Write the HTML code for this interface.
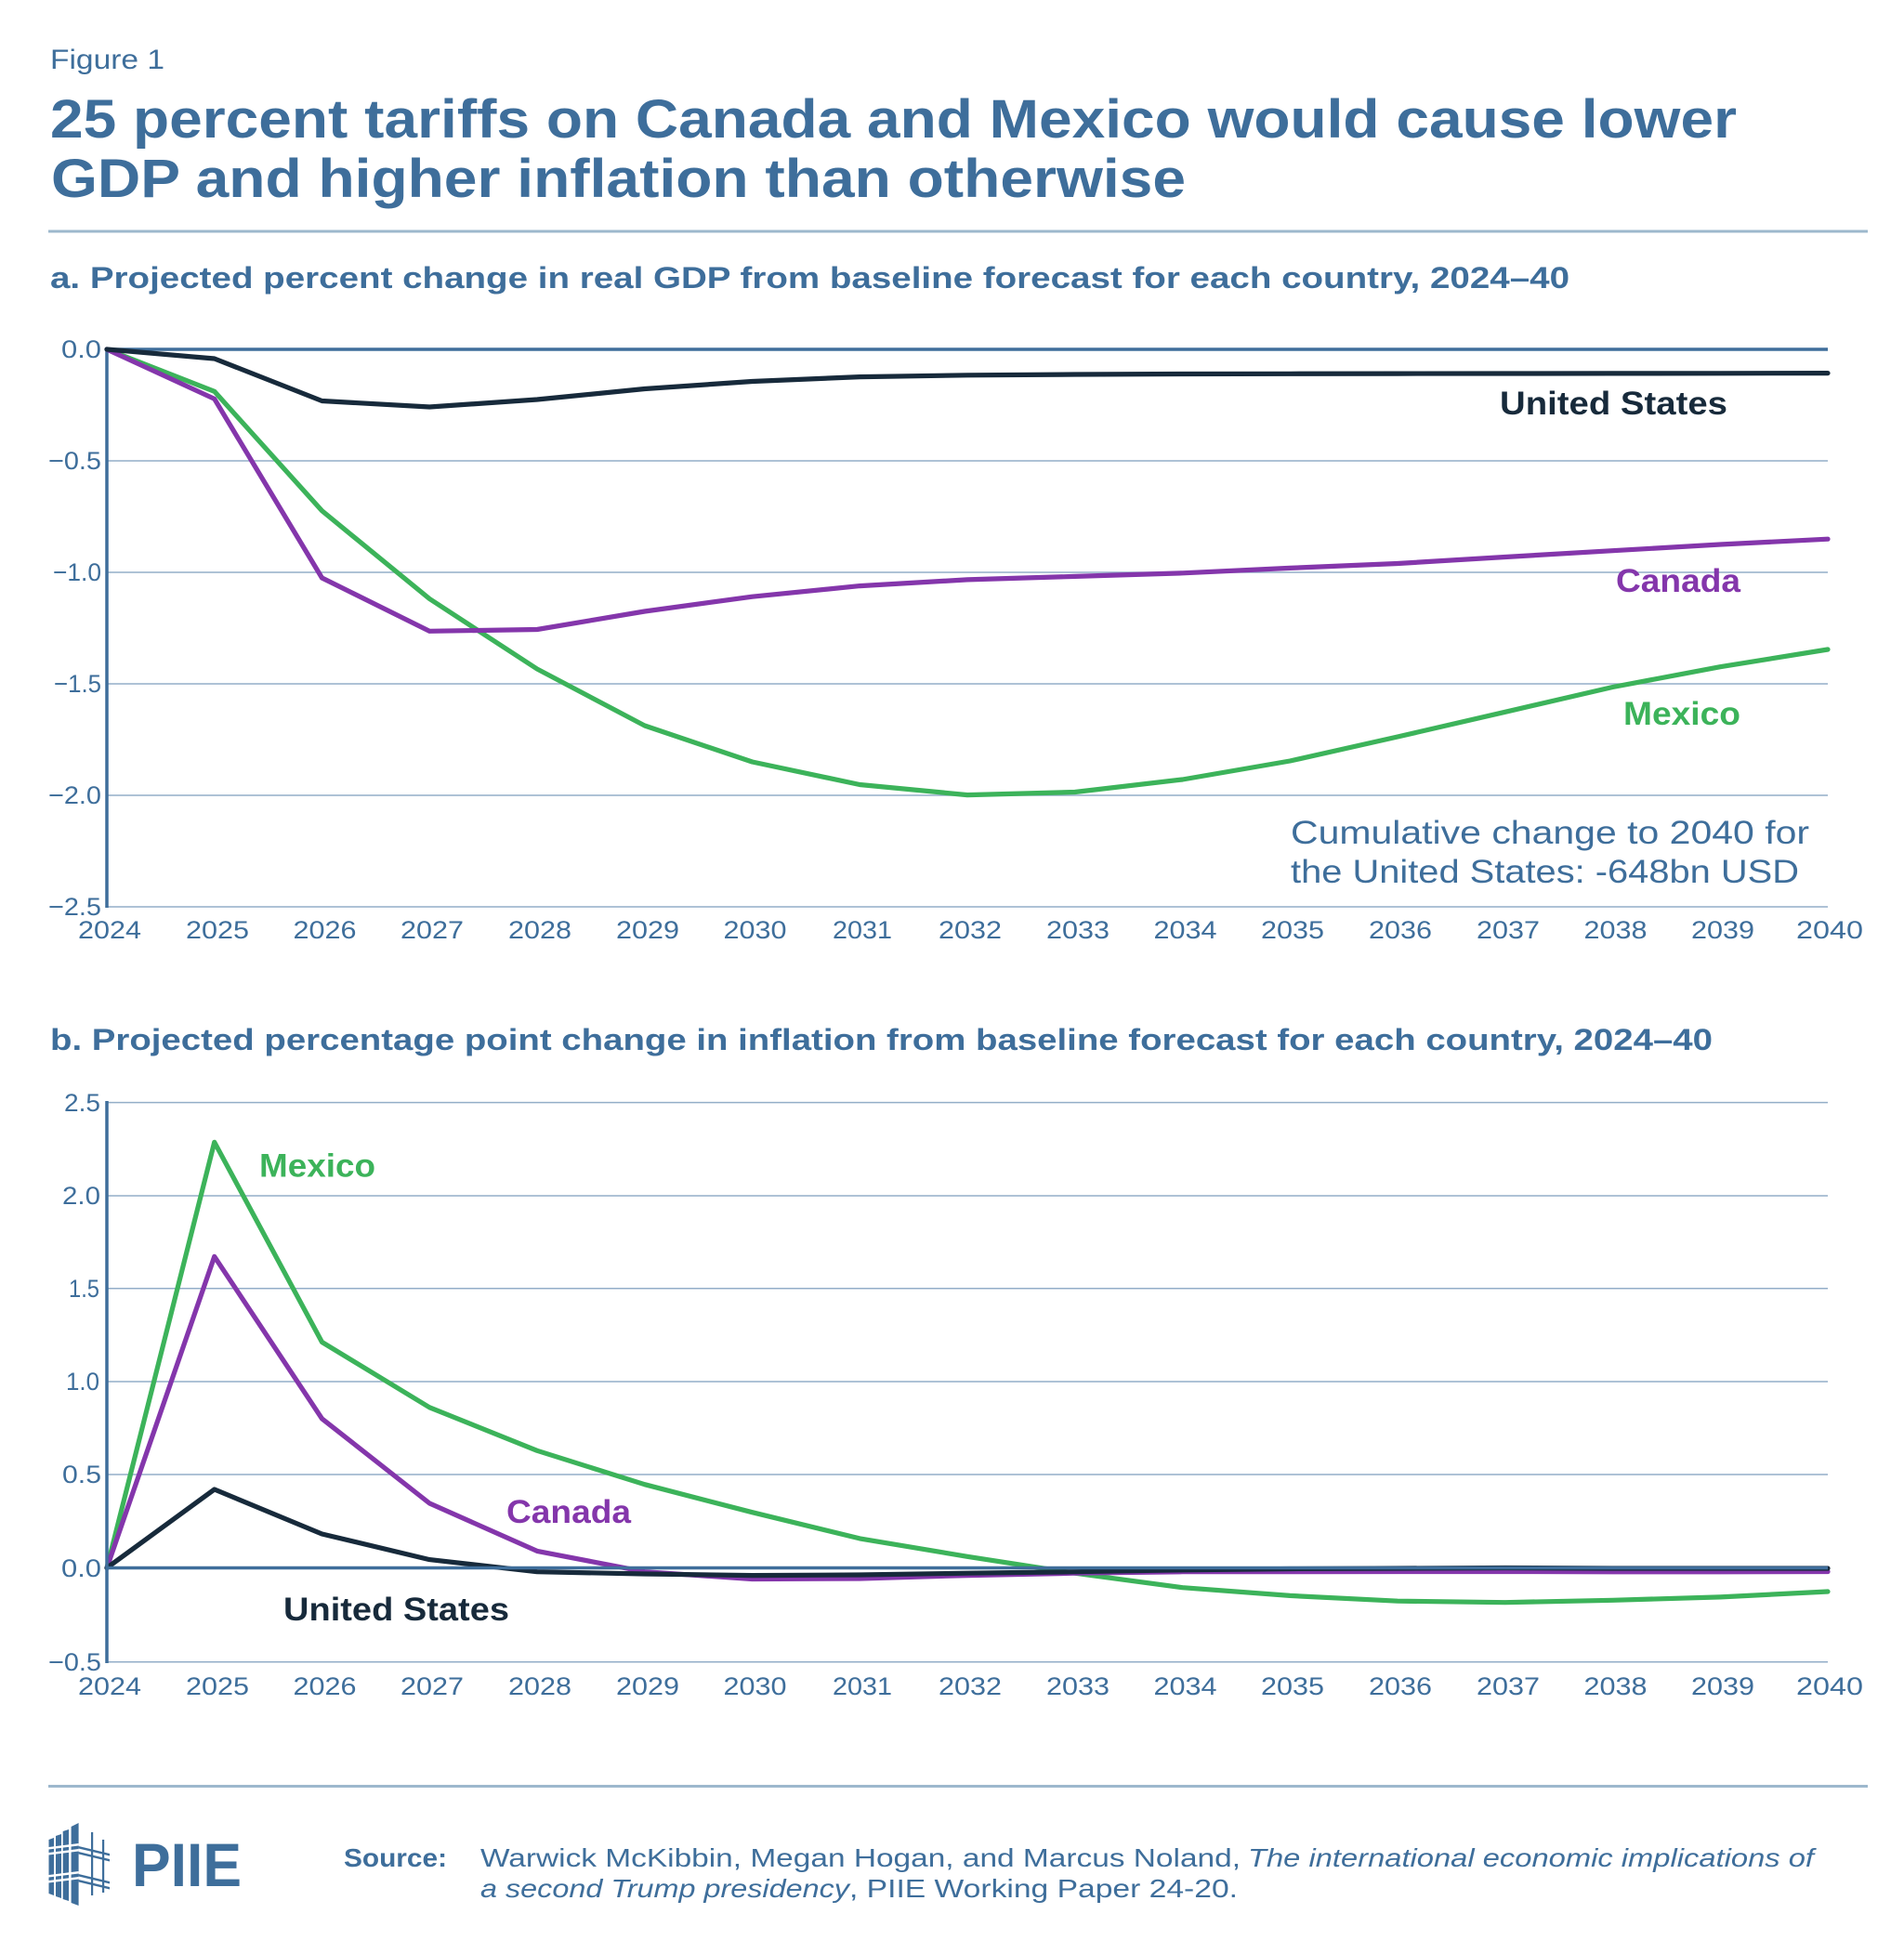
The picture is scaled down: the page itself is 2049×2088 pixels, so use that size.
<!DOCTYPE html>
<html>
<head>
<meta charset="utf-8">
<style>
  html, body { margin: 0; padding: 0; background: #ffffff; }
  svg { display: block; }
  text { font-family: "Liberation Sans", Arial, sans-serif; }
</style>
</head>
<body>
<svg xmlns="http://www.w3.org/2000/svg" width="2049" height="2088" viewBox="0 0 2049 2088">
  <rect x="0" y="0" width="2049" height="2088" fill="#ffffff"/>

  <!-- Header -->
  <text x="54" y="74" font-size="30" fill="#3e6e9b" textLength="123" lengthAdjust="spacingAndGlyphs">Figure 1</text>
  <text x="54" y="148" font-size="58" font-weight="700" fill="#3e6e9b" textLength="1815" lengthAdjust="spacingAndGlyphs">25 percent tariffs on Canada and Mexico would cause lower</text>
  <text x="55" y="212" font-size="58" font-weight="700" fill="#3e6e9b" textLength="1221" lengthAdjust="spacingAndGlyphs">GDP and higher inflation than otherwise</text>
  <rect x="52" y="247.5" width="1958" height="3" fill="#9db8cd"/>

  <!-- Subtitle a -->
  <text x="54" y="310" font-size="32" font-weight="700" fill="#3e6e9b" textLength="1635" lengthAdjust="spacingAndGlyphs">a. Projected percent change in real GDP from baseline forecast for each country, 2024–40</text>

  <!-- Chart a gridlines -->
  <g stroke="#93aec8" stroke-width="1.5">
    <line x1="115" y1="496" x2="1967" y2="496"/>
    <line x1="115" y1="616" x2="1967" y2="616"/>
    <line x1="115" y1="736" x2="1967" y2="736"/>
    <line x1="115" y1="856" x2="1967" y2="856"/>
    <line x1="115" y1="976" x2="1967" y2="976"/>
  </g>
  <!-- Chart a y labels -->
  <g font-size="27" fill="#3e6e9b" text-anchor="end">
    <text x="109" y="385" textLength="43" lengthAdjust="spacingAndGlyphs">0.0</text>
    <text x="109" y="505" textLength="57" lengthAdjust="spacingAndGlyphs">−0.5</text>
    <text x="109" y="625" textLength="52" lengthAdjust="spacingAndGlyphs">−1.0</text>
    <text x="109" y="745" textLength="51" lengthAdjust="spacingAndGlyphs">−1.5</text>
    <text x="109" y="865" textLength="57" lengthAdjust="spacingAndGlyphs">−2.0</text>
    <text x="109" y="985" textLength="57" lengthAdjust="spacingAndGlyphs">−2.5</text>
  </g>
  <!-- Chart a x labels -->
  <g font-size="27" fill="#3e6e9b" text-anchor="middle">
    <text x="118" y="1010" textLength="68" lengthAdjust="spacingAndGlyphs">2024</text>
    <text x="234" y="1010" textLength="68" lengthAdjust="spacingAndGlyphs">2025</text>
    <text x="349.5" y="1010" textLength="68" lengthAdjust="spacingAndGlyphs">2026</text>
    <text x="465" y="1010" textLength="68" lengthAdjust="spacingAndGlyphs">2027</text>
    <text x="581" y="1010" textLength="68" lengthAdjust="spacingAndGlyphs">2028</text>
    <text x="697" y="1010" textLength="68" lengthAdjust="spacingAndGlyphs">2029</text>
    <text x="812.5" y="1010" textLength="68" lengthAdjust="spacingAndGlyphs">2030</text>
    <text x="928" y="1010" textLength="64" lengthAdjust="spacingAndGlyphs">2031</text>
    <text x="1044" y="1010" textLength="68" lengthAdjust="spacingAndGlyphs">2032</text>
    <text x="1160" y="1010" textLength="68" lengthAdjust="spacingAndGlyphs">2033</text>
    <text x="1275.5" y="1010" textLength="68" lengthAdjust="spacingAndGlyphs">2034</text>
    <text x="1391" y="1010" textLength="68" lengthAdjust="spacingAndGlyphs">2035</text>
    <text x="1507" y="1010" textLength="68" lengthAdjust="spacingAndGlyphs">2036</text>
    <text x="1623" y="1010" textLength="68" lengthAdjust="spacingAndGlyphs">2037</text>
    <text x="1738.5" y="1010" textLength="68" lengthAdjust="spacingAndGlyphs">2038</text>
    <text x="1854" y="1010" textLength="68" lengthAdjust="spacingAndGlyphs">2039</text>
    <text x="1969" y="1010" textLength="72" lengthAdjust="spacingAndGlyphs">2040</text>
  </g>

  <!-- Chart a axes -->
  <line x1="115" y1="376" x2="1967" y2="376" stroke="#3f6e9b" stroke-width="3.5"/>
  <line x1="115" y1="374.5" x2="115" y2="977" stroke="#3f6e9b" stroke-width="3.5"/>

  <!-- Chart a series -->
  <g fill="none" stroke-width="5.2" stroke-linejoin="round" stroke-linecap="round">
    <polyline stroke="#3cb35a" points="115,376 230.75,421.3 346.5,549.8 462.25,644.5 578,720 693.75,781 809.5,820 925.25,844.5 1041,855.6 1156.75,852.5 1272.5,839 1388.25,819 1504,793 1619.75,766.3 1735.5,739.5 1851.25,717.7 1967,699"/>
    <polyline stroke="#8436ab" points="115,376 230.75,429.3 346.5,622 462.25,679.3 578,677.5 693.75,658 809.5,642.2 925.25,630.6 1041,623.9 1156.75,620.4 1272.5,616.8 1388.25,611.4 1504,606.5 1619.75,599.5 1735.5,592.7 1851.25,586 1967,580.2"/>
    <polyline stroke="#172a3b" points="115,376 230.75,386 346.5,431.5 462.25,438 578,430 693.75,418.5 809.5,410.5 925.25,405.6 1041,403.8 1156.75,403 1272.5,402.5 1388.25,402.3 1504,402.1 1619.75,402 1735.5,401.9 1851.25,401.8 1967,401.6"/>
  </g>

  <!-- Chart a labels -->
  <text x="1614" y="446" font-size="35" font-weight="700" fill="#172a3b" textLength="245" lengthAdjust="spacingAndGlyphs">United States</text>
  <text x="1739" y="637" font-size="35" font-weight="700" fill="#8436ab" textLength="134" lengthAdjust="spacingAndGlyphs">Canada</text>
  <text x="1747" y="780" font-size="35" font-weight="700" fill="#3cb35a" textLength="126" lengthAdjust="spacingAndGlyphs">Mexico</text>
  <text x="1389" y="908" font-size="35" fill="#3e6e9b" textLength="558" lengthAdjust="spacingAndGlyphs">Cumulative change to 2040 for</text>
  <text x="1389" y="950" font-size="35" fill="#3e6e9b" textLength="547" lengthAdjust="spacingAndGlyphs">the United States: -648bn USD</text>

  <!-- Subtitle b -->
  <text x="54" y="1130" font-size="32" font-weight="700" fill="#3e6e9b" textLength="1789" lengthAdjust="spacingAndGlyphs">b. Projected percentage point change in inflation from baseline forecast for each country, 2024–40</text>

  <!-- Chart b gridlines -->
  <g stroke="#93aec8" stroke-width="1.5">
    <line x1="115" y1="1186.6" x2="1967" y2="1186.6"/>
    <line x1="115" y1="1287" x2="1967" y2="1287"/>
    <line x1="115" y1="1386.7" x2="1967" y2="1386.7"/>
    <line x1="115" y1="1487" x2="1967" y2="1487"/>
    <line x1="115" y1="1587" x2="1967" y2="1587"/>
    <line x1="115" y1="1788.7" x2="1967" y2="1788.7"/>
  </g>
  <!-- Chart b y labels -->
  <g font-size="27" fill="#3e6e9b" text-anchor="end">
    <text x="108" y="1196" textLength="39" lengthAdjust="spacingAndGlyphs">2.5</text>
    <text x="108" y="1296" textLength="41" lengthAdjust="spacingAndGlyphs">2.0</text>
    <text x="107" y="1396" textLength="33" lengthAdjust="spacingAndGlyphs">1.5</text>
    <text x="107" y="1496" textLength="36" lengthAdjust="spacingAndGlyphs">1.0</text>
    <text x="109" y="1596" textLength="42" lengthAdjust="spacingAndGlyphs">0.5</text>
    <text x="109" y="1697" textLength="43" lengthAdjust="spacingAndGlyphs">0.0</text>
    <text x="109" y="1798" textLength="57" lengthAdjust="spacingAndGlyphs">−0.5</text>
  </g>
  <!-- Chart b x labels -->
  <g font-size="27" fill="#3e6e9b" text-anchor="middle">
    <text x="118" y="1824" textLength="68" lengthAdjust="spacingAndGlyphs">2024</text>
    <text x="234" y="1824" textLength="68" lengthAdjust="spacingAndGlyphs">2025</text>
    <text x="349.5" y="1824" textLength="68" lengthAdjust="spacingAndGlyphs">2026</text>
    <text x="465" y="1824" textLength="68" lengthAdjust="spacingAndGlyphs">2027</text>
    <text x="581" y="1824" textLength="68" lengthAdjust="spacingAndGlyphs">2028</text>
    <text x="697" y="1824" textLength="68" lengthAdjust="spacingAndGlyphs">2029</text>
    <text x="812.5" y="1824" textLength="68" lengthAdjust="spacingAndGlyphs">2030</text>
    <text x="928" y="1824" textLength="64" lengthAdjust="spacingAndGlyphs">2031</text>
    <text x="1044" y="1824" textLength="68" lengthAdjust="spacingAndGlyphs">2032</text>
    <text x="1160" y="1824" textLength="68" lengthAdjust="spacingAndGlyphs">2033</text>
    <text x="1275.5" y="1824" textLength="68" lengthAdjust="spacingAndGlyphs">2034</text>
    <text x="1391" y="1824" textLength="68" lengthAdjust="spacingAndGlyphs">2035</text>
    <text x="1507" y="1824" textLength="68" lengthAdjust="spacingAndGlyphs">2036</text>
    <text x="1623" y="1824" textLength="68" lengthAdjust="spacingAndGlyphs">2037</text>
    <text x="1738.5" y="1824" textLength="68" lengthAdjust="spacingAndGlyphs">2038</text>
    <text x="1854" y="1824" textLength="68" lengthAdjust="spacingAndGlyphs">2039</text>
    <text x="1969" y="1824" textLength="72" lengthAdjust="spacingAndGlyphs">2040</text>
  </g>

  <!-- Chart b series -->
  <g fill="none" stroke-width="5.2" stroke-linejoin="round" stroke-linecap="round">
    <polyline stroke="#3cb35a" points="115,1687.5 230.75,1229.3 346.5,1444.5 462.25,1514.8 578,1561.3 693.75,1597.7 809.5,1627.7 925.25,1655.9 1041,1675.3 1156.75,1693.2 1272.5,1708.7 1388.25,1717.4 1504,1723.2 1619.75,1724.7 1735.5,1722.3 1851.25,1718.9 1967,1713"/>
    <polyline stroke="#8436ab" points="115,1687.5 230.75,1352.4 346.5,1526.9 462.25,1618 578,1669.4 693.75,1691.7 809.5,1699.5 925.25,1699 1041,1695.6 1156.75,1693.2 1272.5,1691.7 1388.25,1691.7 1504,1691.5 1619.75,1691.5 1735.5,1691.8 1851.25,1691.8 1967,1691.5"/>
    <polyline stroke="#172a3b" points="115,1687.5 230.75,1603 346.5,1651 462.25,1678.6 578,1691.7 693.75,1694 809.5,1695.6 925.25,1695 1041,1693.2 1156.75,1691.7 1272.5,1689.8 1388.25,1688.5 1504,1688 1619.75,1687.5 1735.5,1688 1851.25,1688 1967,1688"/>
  </g>

  <!-- Chart b axes -->
  <line x1="115" y1="1687.5" x2="1967" y2="1687.5" stroke="#3f6e9b" stroke-width="3.5"/>
  <line x1="115" y1="1185" x2="115" y2="1790" stroke="#3f6e9b" stroke-width="3.5"/>

  <!-- Chart b labels -->
  <text x="279" y="1266.6" font-size="35" font-weight="700" fill="#3cb35a" textLength="125" lengthAdjust="spacingAndGlyphs">Mexico</text>
  <text x="545" y="1639" font-size="35" font-weight="700" fill="#8436ab" textLength="134" lengthAdjust="spacingAndGlyphs">Canada</text>
  <text x="305" y="1744" font-size="35" font-weight="700" fill="#172a3b" textLength="243" lengthAdjust="spacingAndGlyphs">United States</text>

  <!-- Footer rule -->
  <rect x="52" y="1921" width="1958" height="3" fill="#9db8cd"/>

  <!-- Logo icon -->
  <g fill="#3e6e9b">
    <polygon points="52.5,1980 58,1978 58,2040 52.5,2038"/>
    <polygon points="60,1976 66,1974 66,2043 60,2041"/>
    <polygon points="67.7,1971 74,1969 74,2046 67.7,2044"/>
    <polygon points="76.6,1966 84.6,1962 84.6,2051 76.6,2048"/>
    <rect x="98" y="1972" width="2.2" height="68"/>
    <rect x="110" y="1980" width="2.2" height="57"/>
    <polygon points="84.6,1987 118,1995 118,1997.5 84.6,1989.5"/>
    <polygon points="84.6,1993 118,2001 118,2003.5 84.6,1995.5"/>
    <polygon points="84.6,2017 118,2025 118,2027.5 84.6,2019.5"/>
    <polygon points="84.6,2023 118,2031 118,2033.5 84.6,2025.5"/>
  </g>
  <g fill="#ffffff">
    <polygon points="52.5,1988 84.6,1984 84.6,1986.5 52.5,1990.5"/>
    <polygon points="52.5,1994 84.6,1990 84.6,1992.5 52.5,1996.5"/>
    <polygon points="52.5,2018 84.6,2014 84.6,2016.5 52.5,2020.5"/>
    <polygon points="52.5,2024 84.6,2020 84.6,2022.5 52.5,2026.5"/>
  </g>
  <text x="142" y="2030" font-size="66" font-weight="700" fill="#3e6e9b" textLength="118" lengthAdjust="spacingAndGlyphs">PIIE</text>

  <!-- Source -->
  <text x="370" y="2009" font-size="28" font-weight="700" fill="#3e6e9b" textLength="111" lengthAdjust="spacingAndGlyphs">Source:</text>
  <text x="517" y="2009" font-size="28" fill="#3e6e9b" textLength="818" lengthAdjust="spacingAndGlyphs">Warwick McKibbin, Megan Hogan, and Marcus Noland,</text>
  <text x="1343" y="2009" font-size="28" font-style="italic" fill="#3e6e9b" textLength="609" lengthAdjust="spacingAndGlyphs">The international economic implications of</text>
  <text x="517" y="2042" font-size="28" font-style="italic" fill="#3e6e9b" textLength="397" lengthAdjust="spacingAndGlyphs">a second Trump presidency</text>
  <text x="914" y="2042" font-size="28" fill="#3e6e9b" textLength="418" lengthAdjust="spacingAndGlyphs">, PIIE Working Paper 24-20.</text>
</svg>
</body>
</html>
